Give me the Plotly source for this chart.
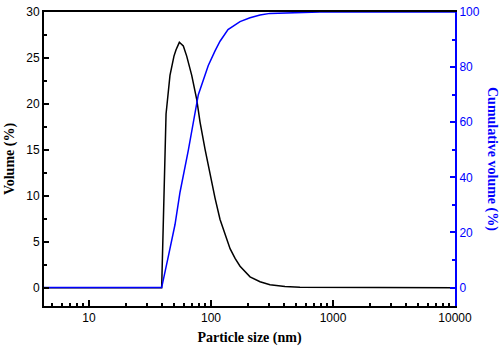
import plotly.graph_objects as go

# Particle size distribution (volume) and its cumulative curve
size_vol = [4.0, 39.4, 42.8, 44.7, 46.1, 49.7, 51.7, 55.0, 59.3, 63.2, 69.5,
            76.4, 81.3, 89.4, 98.2, 107.9, 118.6, 130.4, 143.3, 157.5, 173,
            208.9, 252.3, 304.4, 403.7, 535.6, 1376, 10000]
volume = [0, 0, 18.9, 21.0, 23.1, 25.2, 25.9, 26.7, 26.3, 25.2, 23.1,
          20.46, 18.02, 15.05, 12.30, 9.75, 7.42, 5.72, 4.24, 3.18, 2.33,
          1.17, 0.64, 0.32, 0.11, 0.03, 0, 0]

size_cum = [4.0, 39.4, 45.0, 50.7, 55.7, 65.2, 78.7, 95.0, 107.9, 118.6,
            137.8, 172.9, 208.9, 252.3, 304.4, 443.9, 781.6, 10000]
cumulative = [0, 0, 12.0, 22.9, 34.6, 49.9, 70.0, 80.6, 85.9, 89.4,
              93.6, 96.5, 97.9, 98.9, 99.5, 99.8, 100, 100]

x_ticks = [10, 100, 1000, 10000]
x_minor = [m * 10 ** e for e in range(0, 4) for m in range(2, 10)]
y_ticks = [0, 5, 10, 15, 20, 25, 30]
y2_ticks = [0, 20, 40, 60, 80, 100]

BLUE = "#0000ff"
tick_font = dict(family="Liberation Sans, Arial, sans-serif", size=12)
title_font = dict(family="Liberation Serif, Times New Roman, serif", size=14)

fig = go.Figure()
fig.add_trace(go.Scatter(x=size_vol, y=volume, mode="lines",
                         line=dict(color="black", width=1.5), yaxis="y"))
fig.add_trace(go.Scatter(x=size_cum, y=cumulative, mode="lines",
                         line=dict(color=BLUE, width=1.5), yaxis="y2"))

fig.update_layout(
    width=500, height=348,
    margin=dict(l=44, r=45, t=5, b=41),
    plot_bgcolor="white", paper_bgcolor="white",
    showlegend=False,
    xaxis=dict(
        type="log", range=[0.631, 4.0],
        tickvals=x_ticks, ticktext=[str(v) for v in x_ticks],
        ticks="inside", ticklen=6, tickwidth=1.5, tickcolor="black",
        minor=dict(tickmode="array", tickvals=x_minor, ticks="inside",
                   ticklen=3, tickwidth=1.5, tickcolor="black", showgrid=False),
        showline=True, linecolor="black", linewidth=2, mirror=True,
        showgrid=False, zeroline=False,
        tickfont=dict(color="black", **tick_font),
        title=dict(text="<b>Particle size (nm)</b>", font=dict(color="black", **title_font),
                   standoff=8),
    ),
    yaxis=dict(
        range=[-2.0, 30],
        tickvals=y_ticks,
        ticks="inside", ticklen=5, tickwidth=1.5, tickcolor="black",
        minor=dict(ticks="inside", ticklen=3, tickwidth=1.5, tickcolor="black",
                   dtick=2.5, showgrid=False),
        showline=True, linecolor="black", linewidth=2,
        showgrid=False, zeroline=False,
        tickfont=dict(color="black", **tick_font),
        title=dict(text="<b>Volume (%)</b>", font=dict(color="black", **title_font),
                   standoff=8),
    ),
    yaxis2=dict(
        overlaying="y", side="right",
        range=[-6.67, 100],
        tickvals=y2_ticks,
        ticks="inside", ticklen=5, tickwidth=1.5, tickcolor=BLUE,
        minor=dict(ticks="inside", ticklen=3, tickwidth=1.5, tickcolor=BLUE,
                   dtick=10, showgrid=False),
        showline=True, linecolor=BLUE, linewidth=2,
        showgrid=False, zeroline=False,
        tickfont=dict(color=BLUE, **tick_font),
    ),
)

# Right-hand axis title reads top to bottom
fig.add_annotation(
    text="<b>Cumulative volume (%)</b>", textangle=90,
    xref="paper", yref="paper", x=1.0, y=0.5,
    xshift=47, showarrow=False,
    font=dict(color=BLUE, **title_font),
)

fig.write_html("out.html")
